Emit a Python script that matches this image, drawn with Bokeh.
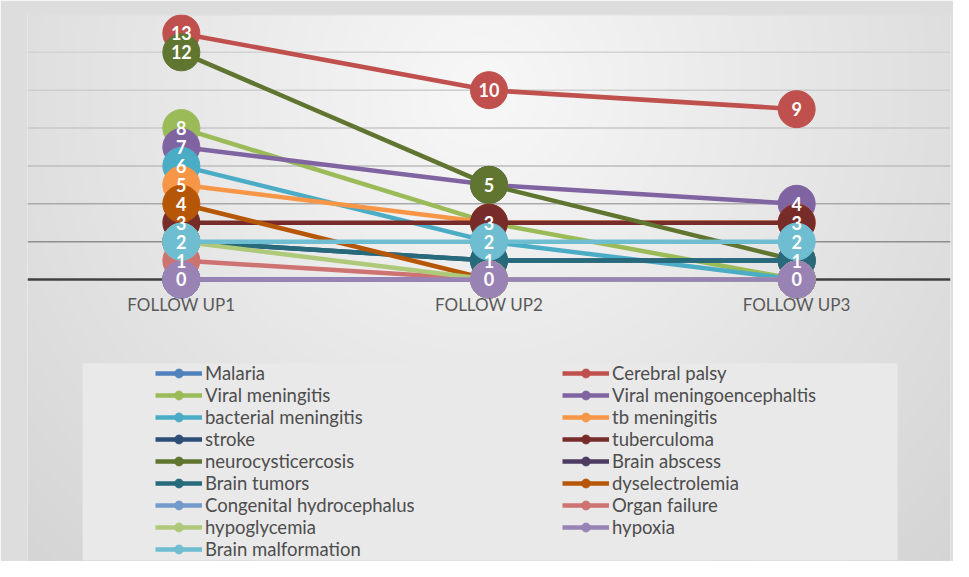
import numpy as np
from bokeh.plotting import figure
from bokeh.models import (FactorRange, Range1d, Span, Legend, LegendItem,
                          BoxAnnotation, ColumnDataSource)
from bokeh.core.properties import value
from bokeh.embed import file_html
from bokeh.resources import INLINE

# ---------------- data ----------------
categories = ["FOLLOW UP1", "FOLLOW UP2", "FOLLOW UP3"]

series_names = [
    "Malaria", "Cerebral palsy", "Viral meningitis", "Viral meningoencephaltis",
    "bacterial meningitis", "tb meningitis", "stroke", "tuberculoma",
    "neurocysticercosis", "Brain abscess", "Brain tumors", "dyselectrolemia",
    "Congenital hydrocephalus", "Organ failure", "hypoglycemia", "hypoxia",
    "Brain malformation",
]

malaria = [0, 0, 0]
cerebral_palsy = [13, 10, 9]
viral_meningitis = [8, 3, 0]
viral_meningoencephaltis = [7, 5, 4]
bacterial_meningitis = [6, 2, 0]
tb_meningitis = [5, 3, 3]
stroke = [2, 1, 1]
tuberculoma = [3, 3, 3]
neurocysticercosis = [12, 5, 1]
brain_abscess = [0, 0, 0]
brain_tumors = [2, 1, 1]
dyselectrolemia = [4, 0, 0]
congenital_hydrocephalus = [0, 0, 0]
organ_failure = [1, 0, 0]
hypoglycemia = [2, 0, 0]
hypoxia = [0, 0, 0]
brain_malformation = [2, 2, 2]

series_values = [
    malaria, cerebral_palsy, viral_meningitis, viral_meningoencephaltis,
    bacterial_meningitis, tb_meningitis, stroke, tuberculoma,
    neurocysticercosis, brain_abscess, brain_tumors, dyselectrolemia,
    congenital_hydrocephalus, organ_failure, hypoglycemia, hypoxia,
    brain_malformation,
]

grid_values = [2, 4, 6, 8, 10, 12, 14]

# ---------------- style ----------------
colors = [
    "#4F81BD", "#C0504D", "#9BBB59", "#8064A2", "#4BACC6", "#F79646",
    "#2C4D75", "#772C2A", "#5F7530", "#4D3B62", "#276A7C", "#B65708",
    "#729ACA", "#CD7371", "#AFC97A", "#9983B5", "#6FBDD1",
]
grid_colors = ["#8e8e8e", "#a9a9a9", "#bdbdbd", "#c7c7c7", "#cdcdcd", "#d2d2d2", "#d8d8d8"]

FONT = "Lato"
Y_TOP = 14
Y_BOTTOM = -14.9

p = figure(width=953, height=561,
           x_range=FactorRange(factors=categories),
           y_range=Range1d(Y_BOTTOM, Y_TOP),
           x_axis_location=None, y_axis_location=None,
           output_backend="svg", toolbar_location=None,
           min_border_left=27, min_border_right=3,
           min_border_top=14, min_border_bottom=0)
p.grid.visible = False
p.outline_line_color = None
p.border_fill_color = "#dddddd"
p.background_fill_color = "#e8e8e8"

# soft radial background shading (styling only)
H, W = 274, 462
yy, xx = np.mgrid[0:H, 0:W]
rx = 35 + (xx + 0.5) * (923 / W)
ry = 569 - (yy + 0.5) * (547 / H)
d = np.hypot(rx - 490, ry - 100)
shade = np.clip(248 - 36 * d / 670, 205, 250).astype(np.uint8)
img = np.empty((H, W), dtype=np.uint32)
view = img.view(dtype=np.uint8).reshape((H, W, 4))
view[..., 0] = shade
view[..., 1] = shade
view[..., 2] = shade
view[..., 3] = 255
p.image_rgba(image=[img], x=0, y=Y_BOTTOM, dw=3, dh=Y_TOP - Y_BOTTOM, level="image")

# legend backdrop
p.add_layout(BoxAnnotation(left=0.179, right=2.828, bottom=-14.84, top=-4.44,
                           fill_color="#e9e9e9", fill_alpha=1.0,
                           line_color=None, level="underlay"))

# gridlines & zero line
for gv, gc in zip(grid_values, grid_colors):
    p.add_layout(Span(location=gv, dimension="width", line_color=gc,
                      line_width=1.5, level="underlay"))
p.add_layout(Span(location=0, dimension="width", line_color="#404040",
                  line_width=2.5, level="underlay"))

items = []
for name, vals, col in zip(series_names, series_values, colors):
    src = ColumnDataSource(dict(x=categories, y=vals))
    lr = p.line("x", "y", source=src, line_color=col, line_width=4.5)
    sr = p.scatter("x", "y", source=src, size=37, fill_color=col, line_color=col)
    items.append(LegendItem(label=name, renderers=[lr, sr]))

# data labels (one per visible point, top-most series wins)
label_points = {}
for vals in series_values:
    for c, v in zip(categories, vals):
        label_points[(c, v)] = str(v)
lab_x = [k[0] for k in label_points]
lab_y = [k[1] for k in label_points]
lab_t = list(label_points.values())
p.text(x=lab_x, y=lab_y, text=lab_t, text_font=value(FONT), text_font_style="bold",
       text_font_size="18px", text_color="white", text_align="center",
       text_baseline="middle")

# category labels
p.text(x=categories, y=[-1.32] * len(categories), text=categories,
       text_font=value(FONT), text_font_size="17px", text_color="#595959",
       text_align="center", text_baseline="middle")

legend = Legend(items=items, location=(128, 1), orientation="horizontal", ncols=2,
                padding=0, margin=0, spacing=0,
                glyph_width=47, glyph_height=22, label_height=22,
                label_width=357, label_standoff=3,
                label_text_font=FONT, label_text_font_size="18.5px",
                label_text_color="#4d4d4d",
                background_fill_alpha=0, border_line_alpha=0)
p.add_layout(legend)

open("out.html", "w").write(file_html(p, INLINE))
